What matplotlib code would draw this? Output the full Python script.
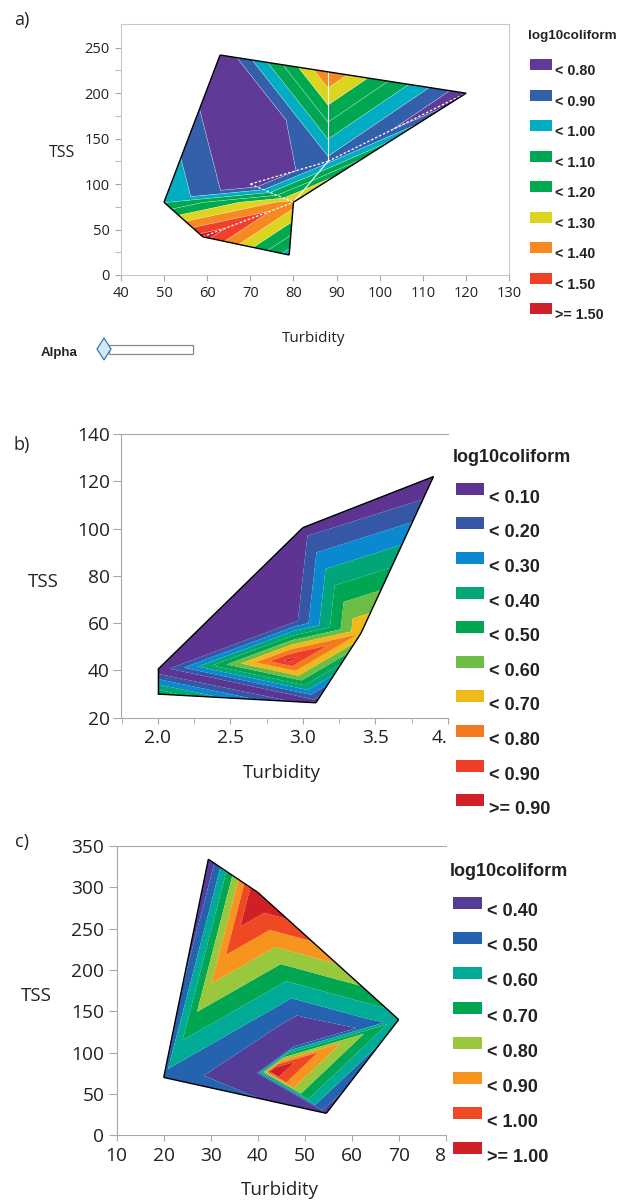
import numpy as np
import matplotlib
matplotlib.use('Agg')
import matplotlib.pyplot as plt
import matplotlib.tri as mtri
from matplotlib.collections import LineCollection
from matplotlib.patches import Rectangle, Polygon

plt.rcParams['font.family'] = ['Open Sans', 'DejaVu Sans']

W, H = 628, 1200

# ---------------- panel a: points of the triangulated surface
a_turb = [63, 120, 88, 88, 70, 50, 59, 79, 80]
a_tss = [242, 200, 223.5, 125, 100, 80, 42, 22, 80]
a_coli = [0.69, 0.72, 1.395, 0.87, 0.70, 0.99, 1.55, 0.95, 1.35]
a_tris = [(0, 2, 3), (2, 1, 3), (0, 3, 4), (0, 4, 5), (3, 8, 4),
          (3, 1, 8), (4, 8, 5), (5, 8, 6), (6, 8, 7)]
a_levels = [0.8, 0.9, 1.0, 1.1, 1.2, 1.3, 1.4, 1.5]
a_labels = ['< 0.80', '< 0.90', '< 1.00', '< 1.10', '< 1.20',
            '< 1.30', '< 1.40', '< 1.50', '>= 1.50']
a_colors = ['#5f3b97', '#3460ab', '#00adc3', '#00a651', '#00a84f',
            '#dcd520', '#f6891f', '#ef4129', '#d11f2a']
a_solid_edges = [(2, 3), (3, 8)]
a_dashed_edges = [(4, 3), (3, 1), (6, 8), (4, 8)]

# ---------------- panel b
b_turb = [2.0, 2.0, 3.09, 3.4, 3.9, 3.0, 2.9, 2.95]
b_tss = [40.4, 30, 26.3, 55.7, 122, 100.4, 44.4, 61]
b_coli = [0.02, 0.48, 0.03, 0.69, 0.0, 0.05, 0.93, 0.08]
b_tris = [(0, 1, 2), (0, 2, 6), (2, 3, 6), (6, 3, 7), (0, 6, 7),
          (0, 7, 5), (5, 7, 3), (5, 3, 4)]
b_levels = [0.1, 0.2, 0.3, 0.4, 0.5, 0.6, 0.7, 0.8, 0.9]
b_labels = ['< 0.10', '< 0.20', '< 0.30', '< 0.40', '< 0.50',
            '< 0.60', '< 0.70', '< 0.80', '< 0.90', '>= 0.90']
b_colors = ['#5e3493', '#3656a6', '#0a88d0', '#00a678', '#00a651',
            '#6cbd45', '#f1b81a', '#f47a20', '#ee3e27', '#d01f26']

# ---------------- panel c
c_turb = [29.5, 40, 70, 54.6, 20, 48.5, 49, 39.5, 43]
c_tss = [334, 294, 140, 26.6, 70, 143, 116, 75, 77.5]
c_coli = [0.30, 1.12, 0.55, 0.35, 0.47, 0.39, 0.20, 0.31, 1.10]
c_tris = [(0, 1, 4), (1, 5, 4), (1, 2, 5), (4, 5, 7), (5, 6, 7), (5, 2, 6),
          (6, 2, 8), (6, 8, 7), (7, 8, 3), (8, 2, 3), (4, 7, 3)]
c_levels = [0.4, 0.5, 0.6, 0.7, 0.8, 0.9, 1.0]
c_labels = ['< 0.40', '< 0.50', '< 0.60', '< 0.70', '< 0.80',
            '< 0.90', '< 1.00', '>= 1.00']
c_colors = ['#553c96', '#2463b0', '#00ab98', '#00a651', '#99c83d',
            '#f7941d', '#ef4923', '#d11f26']

TXT = '#222222'
GRID = '#a8a8a8'


def add_ax(fig, left, top, right, bottom):
    return fig.add_axes([left / W, 1 - bottom / H, (right - left) / W, (bottom - top) / H])


def ftext(fig, x, y, s, **kw):
    fig.text(x / W, 1 - y / H, s, color=TXT, **kw)


def draw_surface(ax, turb, tss, coli, tris, levels, colors):
    x = np.asarray(turb, float)
    y = np.asarray(tss, float)
    z = np.asarray(coli, float)
    tri = mtri.Triangulation(x, y, tris)
    bounds = [z.min() - 1] + list(levels) + [z.max() + 1]
    ax.tricontourf(tri, z, levels=bounds, colors=colors, antialiased=True)
    # outline of the hull
    segs = []
    for t, nb in zip(tri.triangles, tri.neighbors):
        for k in range(3):
            if nb[k] == -1:
                i, j = t[k], t[(k + 1) % 3]
                segs.append([(x[i], y[i]), (x[j], y[j])])
    ax.add_collection(LineCollection(segs, colors='black', linewidths=1.0, zorder=5))
    return tri, x, y, z


def draw_legend(fig, title, labels, colors, tx, ty, sx, sw, sh, top0, step, lx, ldy, fs, tfs):
    ftext(fig, tx, ty, title, ha='left', va='center', fontsize=tfs,
          fontweight='bold', family='Liberation Sans')
    for i, (lab, col) in enumerate(zip(labels, colors)):
        top = top0 + i * step
        fig.add_artist(Rectangle((sx / W, 1 - (top + sh) / H), sw / W, sh / H,
                                 transform=fig.transFigure, facecolor=col,
                                 edgecolor='none'))
        ftext(fig, lx, top + ldy, lab, ha='left', va='center', fontsize=fs,
              fontweight='bold', family='Liberation Sans')


fig = plt.figure(figsize=(W / 100, H / 100), dpi=100)

# ================= a)
ax = add_ax(fig, 120.8, 24.3, 509.3, 275)
tri, x, y, z = draw_surface(ax, a_turb, a_tss, a_coli, a_tris, a_levels, a_colors)
ax.tricontour(tri, z, levels=a_levels, colors='white', linewidths=0.35, alpha=0.55)
for i, j in a_solid_edges:
    ax.plot([x[i], x[j]], [y[i], y[j]], color='white', lw=0.8, zorder=4)
for i, j in a_dashed_edges:
    ax.plot([x[i], x[j]], [y[i], y[j]], color='white', lw=0.9, ls=(0, (2, 1.5)), zorder=4)
ax.set_xlim(40, 130)
ax.set_ylim(0, 275.8)
ax.set_xticks(range(40, 131, 10))
ax.set_yticks(range(0, 251, 50))
ax.set_yticks(np.arange(25, 275, 50), minor=True)
ax.tick_params(which='both', direction='out', length=4, color=GRID,
               labelcolor=TXT, labelsize=10.5, pad=4)
for s in ax.spines.values():
    s.set_color('#c8c8c8')
ftext(fig, 22, 20, 'a)', ha='center', va='center', fontsize=13)
ftext(fig, 62, 153, 'TSS', ha='center', va='center', fontsize=11.5)
ftext(fig, 314, 339, 'Turbidity', ha='center', va='center', fontsize=11)
draw_legend(fig, 'log10coliform', a_labels, a_colors, 528, 36, 530, 22, 10.7,
            59.3, 30.5, 555, 12, 10.3, 9.7)
# alpha slider
ftext(fig, 59, 353, 'Alpha', ha='center', va='center', fontsize=9.5,
      fontweight='bold', family='Liberation Sans')
fig.add_artist(Rectangle((109 / W, 1 - 354 / H), 84 / W, 9 / H, transform=fig.transFigure,
                         facecolor='white', edgecolor='#8a8a8a', lw=0.9))
fig.add_artist(Polygon([(97 / W, 1 - 349 / H), (104 / W, 1 - 338 / H),
                        (111 / W, 1 - 349 / H), (104 / W, 1 - 360 / H)],
                       closed=True, transform=fig.transFigure,
                       facecolor='#cde9f8', edgecolor='#3f74ad', lw=0.9))

# ================= b)
ax = add_ax(fig, 120.8, 434, 448, 717.7)
draw_surface(ax, b_turb, b_tss, b_coli, b_tris, b_levels, b_colors)
ax.set_xlim(1.745, 4.0)
ax.set_ylim(20, 140)
ax.set_xticks([2.0, 2.5, 3.0, 3.5, 4.0])
ax.set_xticklabels(['2.0', '2.5', '3.0', '3.5', '4.'])
ax.set_xticks([1.75, 2.25, 2.75, 3.25, 3.75], minor=True)
ax.get_xticklabels()[-1].set_horizontalalignment('right')
ax.set_yticks(range(20, 141, 20))
ax.tick_params(which='both', direction='out', length=4.2, color=GRID,
               labelcolor=TXT, labelsize=13.8, pad=4)
ax.tick_params(axis='y', length=5.8, pad=2)
ax.spines['right'].set_visible(False)
for s in ['left', 'top', 'bottom']:
    ax.spines[s].set_color(GRID)
ftext(fig, 22, 445, 'b)', ha='center', va='center', fontsize=13)
ftext(fig, 43.5, 582, 'TSS', ha='center', va='center', fontsize=13.5)
ftext(fig, 282, 773, 'Turbidity', ha='center', va='center', fontsize=13.5)
draw_legend(fig, 'log10coliform', b_labels, b_colors, 452.7, 458, 456, 28, 12,
            482.7, 34.6, 489, 15.6, 13, 13)

# ================= c)
ax = add_ax(fig, 116.7, 846, 445.7, 1135.3)
draw_surface(ax, c_turb, c_tss, c_coli, c_tris, c_levels, c_colors)
ax.set_xlim(10, 80)
ax.set_ylim(0, 350)
ax.set_xticks(range(10, 81, 10))
ax.set_xticklabels(['10', '20', '30', '40', '50', '60', '70', '8'])
ax.get_xticklabels()[-1].set_horizontalalignment('right')
ax.set_yticks(range(0, 351, 50))
ax.tick_params(which='both', direction='out', length=4.2, color=GRID,
               labelcolor=TXT, labelsize=13.8, pad=4)
ax.tick_params(axis='y', length=5.8, pad=3)
ax.spines['right'].set_visible(False)
for s in ['left', 'top', 'bottom']:
    ax.spines[s].set_color(GRID)
ftext(fig, 22, 842, 'c)', ha='center', va='center', fontsize=13)
ftext(fig, 36, 996, 'TSS', ha='center', va='center', fontsize=13.5)
ftext(fig, 280, 1190, 'Turbidity', ha='center', va='center', fontsize=13.5)
draw_legend(fig, 'log10coliform', c_labels, c_colors, 450, 872, 453, 29, 12,
            896.7, 35.1, 487, 15, 13, 13)

fig.savefig('out.png', dpi=100)
